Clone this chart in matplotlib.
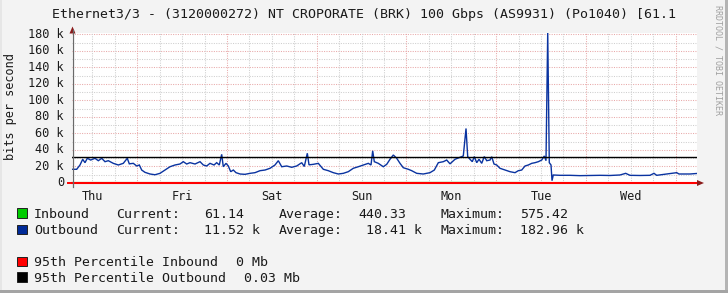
import matplotlib
matplotlib.use("Agg")
import matplotlib.pyplot as plt
from matplotlib.patches import Rectangle, Polygon

# ---------------- data ----------------
# time in hours from Thursday 00:00, outbound traffic in kbit/s
out_hours = [6.72, 7.79, 8.67, 9.39, 10.01, 10.62, 11.53, 12.68, 13.57, 14.48, 15.36, 16.24,
             17.58, 18.92, 20.25, 21.32, 21.86, 22.93, 23.84, 24.54, 25.18, 26.06, 27.40, 28.74,
             30.07, 31.41, 32.75, 34.09, 35.42, 36.31, 37.22, 38.10, 39.44, 40.78, 41.66, 42.57,
             43.45, 44.52, 45.24, 45.94, 46.58, 47.01, 47.73, 48.35, 48.99, 49.69, 50.41, 51.48,
             52.82, 54.15, 55.49, 56.83, 58.17, 59.51, 60.84, 61.73, 62.64, 63.97, 65.31, 66.65,
             67.99, 68.68, 69.49, 69.94, 71.09, 72.43, 73.77, 75.10, 76.44, 77.78, 79.12, 80.45,
             81.79, 83.13, 84.47, 85.81, 86.53, 86.98, 87.41, 88.48, 89.82, 90.73, 91.61, 92.50,
             93.41, 94.29, 95.17, 96.51, 97.42, 98.76, 100.52, 102.31, 103.47, 104.54, 105.87,
             106.78, 107.67, 109.00, 110.34, 111.22, 111.95, 112.40, 113.02, 113.63, 114.17,
             114.81, 115.43, 116.15, 116.84, 117.49, 118.37, 118.82, 119.44, 120.16, 121.04,
             122.38, 123.72, 125.06, 125.94, 126.85, 127.74, 128.62, 129.53, 130.41, 131.29,
             132.20, 132.90, 133.35, 133.81, 134.23, 134.69, 134.96, 135.30, 137.09, 139.77,
             142.44, 145.12, 147.79, 150.47, 153.14, 154.67, 155.82, 158.49, 161.17, 162.24,
             162.97, 165.64, 166.98, 168.32, 168.94, 170.09, 171.88, 173.67]
out_kbps = [16.6, 16.6, 21.8, 28.7, 24.6, 29.9, 27.8, 29.9, 27.0, 29.9, 25.8, 27.0,
            23.8, 21.8, 23.8, 29.9, 23.2, 23.8, 20.6, 21.8, 15.7, 12.9, 10.9, 10.0,
            11.7, 15.7, 19.7, 21.8, 23.0, 25.8, 23.0, 24.6, 23.0, 25.8, 21.8, 20.6,
            23.8, 21.8, 24.6, 21.8, 34.7, 19.7, 23.8, 20.6, 13.7, 15.7, 12.5, 10.9,
            10.5, 11.7, 12.5, 14.9, 15.7, 17.8, 21.8, 27.0, 19.7, 20.6, 19.0, 20.6,
            24.6, 20.0, 36.0, 22.0, 22.6, 23.8, 16.6, 14.9, 12.5, 10.9, 11.7, 13.7,
            17.8, 19.7, 21.8, 23.8, 21.8, 39.0, 25.8, 23.8, 19.7, 22.6, 28.7, 33.9,
            29.9, 23.8, 18.5, 16.6, 14.9, 11.7, 10.9, 12.5, 15.7, 24.6, 25.8,
            27.8, 23.2, 28.7, 31.1, 32.7, 66.0, 32.0, 28.7, 25.8, 32.0,
            24.6, 28.7, 23.8, 32.0, 27.0, 27.8, 31.8, 23.0, 21.8, 17.8,
            15.7, 13.7, 12.5, 14.9, 15.7, 20.6, 21.8, 23.8, 24.6, 25.8,
            27.8, 32.7, 27.0, 182.96, 24.6, 21.8, 2.8, 9.7, 9.3, 9.3,
            8.9, 9.1, 9.3, 9.1, 9.7, 11.7, 9.3, 9.1, 9.3, 11.7,
            9.3, 10.9, 11.7, 12.5, 10.9, 10.9, 10.9, 11.52]
in_hours = [6.72, 30.0, 60.0, 90.0, 112.0, 134.0, 150.0, 173.67]
in_kbps = [0.45, 0.42, 0.44, 0.48, 0.575, 0.40, 0.38, 0.061]

pct95_in_k = 0.0
pct95_out_k = 31.0

day_labels = ["Thu", "Fri", "Sat", "Sun", "Mon", "Tue", "Wed"]
y_ticks = [0, 20, 40, 60, 80, 100, 120, 140, 160, 180]
y_tick_labels = ["0", "20 k", "40 k", "60 k", "80 k", "100 k", "120 k", "140 k", "160 k", "180 k"]

title = "Ethernet3/3 - (3120000272) NT CROPORATE (BRK) 100 Gbps (AS9931) (Po1040) [61.1"
legend_rows = [
    ("#00CC00", [("Inbound", 34), ("Current:", 116), ("61.14", 204), ("Average:", 278.5),
                 ("440.33", 358.5), ("Maximum:", 440.5), ("575.42", 520)]),
    ("#002A97", [("Outbound", 34), ("Current:", 116), ("11.52 k", 204), ("Average:", 278.5),
                 ("18.41 k", 366.5), ("Maximum:", 440.5), ("182.96 k", 520)]),
    ("#FF0000", [("95th Percentile Inbound", 34), ("0 Mb", 236)]),
    ("#000000", [("95th Percentile Outbound", 34), ("0.03 Mb", 244)]),
]

# ---------------- figure ----------------
W, H = 728, 293
BG = "#F3F3F3"
fig = plt.figure(figsize=(W / 100, H / 100), dpi=100, facecolor=BG)
MONO = ["DejaVu Sans Mono"]

x0, x1, ytop, ybot = 72, 697, 33, 183
ax = fig.add_axes([x0 / W, 1 - ybot / H, (x1 - x0) / W, (ybot - ytop) / H])
ax.set_facecolor("white")
ax.set_xlim(6.53, 173.75)
ax.set_ylim(0, 181.6)
for s in ax.spines.values():
    s.set_visible(False)
ax.set_xticks([])
ax.set_yticks([])

# grid
minor_col = "#CFCFCF"
major_col = "#E8A9A9"
for v in range(10, 181, 10):
    col = major_col if v % 20 == 0 else minor_col
    ax.axhline(v, color=col, lw=0.75, dashes=(1, 1.3), zorder=1)
for h in range(12, 174, 6):
    col = major_col if h % 24 == 0 else minor_col
    ax.axvline(h, color=col, lw=0.75, dashes=(1, 1.3), zorder=1)

# data
ax.plot(in_hours, in_kbps, color="#00CC00", lw=1.0, zorder=2)
ax.plot(out_hours, out_kbps, color="#0A33A0", lw=1.0, zorder=3, solid_joinstyle="miter")
ax.axhline(pct95_out_k, color="black", lw=1.0, zorder=4)
ax.axhline(pct95_in_k, color="#FF0000", lw=1.5, zorder=5, clip_on=False)

# y tick labels & day labels (through the axes' own scale)
ytrans = ax.get_yaxis_transform()
for v, lab in zip(y_ticks, y_tick_labels):
    ax.text(-0.013, v, lab, transform=ytrans, ha="right", va="center",
            fontsize=8.6, family=MONO, color="#1a1a1a")
xtrans = ax.get_xaxis_transform()
for i, lab in enumerate(day_labels):
    ax.text(12 + 24 * i, -0.045, lab, transform=xtrans, ha="center", va="top",
            fontsize=8.6, family=MONO, color="#1a1a1a")

# ---------------- overlay in pixel coordinates ----------------
ov = fig.add_axes([0, 0, 1, 1], zorder=10)
ov.set_xlim(0, W)
ov.set_ylim(H, 0)
ov.axis("off")
ov.patch.set_alpha(0)

# frame shading
ov.add_patch(Rectangle((W - 3, 0), 3, H, color="#B4B4B4", lw=0))
ov.add_patch(Rectangle((0, H - 3), W, 3, color="#A4A4A4", lw=0))
ov.add_patch(Rectangle((0, 0), 2, H - 3, color="#E6E6E6", lw=0))

# axes lines
ov.plot([72.5, 72.5], [30, 187], color="#6A6A6A", lw=0.9)
ov.plot([68, 698], [183, 183], color="#FF0000", lw=1.4, zorder=1)
# arrows
arrow_col = "#8B1A1A"
ov.add_patch(Polygon([[69.5, 33.5], [75.5, 33.5], [72.5, 26.5]], closed=True, color=arrow_col, lw=0))
ov.add_patch(Polygon([[697, 180], [697, 186], [704, 183]], closed=True, color=arrow_col, lw=0))

# title
ov.text(51.5, 18.3, title, ha="left", va="baseline", fontsize=9.5, family=MONO, color="#1a1a1a")
# y-axis title
ov.text(11, 107, "bits per second", rotation=90, ha="center", va="center",
        fontsize=8.6, family=MONO, color="#1a1a1a")
# watermark
ov.text(718, 60, "RRDTOOL / TOBI OETIKER", rotation=270, ha="center", va="center",
        fontsize=6.0, family=MONO, color="#A0A0A0")

# legend
row_base = [217.7, 234.0, 266.0, 281.7]
for (col, pieces), yb in zip(legend_rows, row_base):
    ov.add_patch(Rectangle((17, yb - 9.5), 9.5, 9.5, facecolor=col, edgecolor="#202020", lw=0.7))
    for txt, xx in pieces:
        ov.text(xx, yb, txt, ha="left", va="baseline", fontsize=9.5, family=MONO, color="#1a1a1a")

fig.savefig("out.png", dpi=100, facecolor=BG)
